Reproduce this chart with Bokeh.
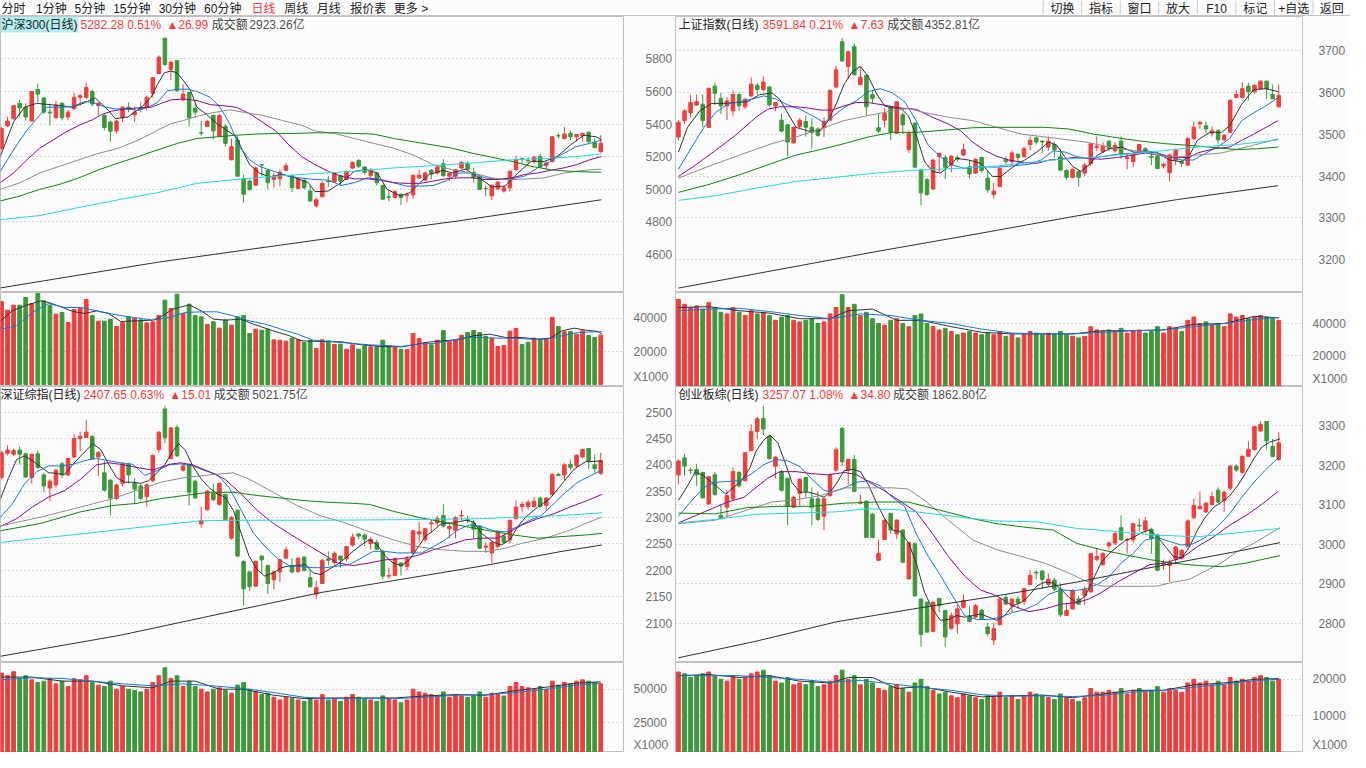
import numpy as np
from bokeh.plotting import figure
from bokeh.layouts import column, row
from bokeh.models import ColumnDataSource, Range1d, FixedTicker, Label, NumeralTickFormatter
from bokeh.core.properties import value
from bokeh.embed import file_html
from bokeh.resources import INLINE

# ---------------- toolbar ----------------
TB_LEFT = ["分时", "1分钟", "5分钟", "15分钟", "30分钟", "60分钟", "日线", "周线", "月线", "报价表", "更多 >"]
TB_RIGHT = ["切换", "指标", "窗口", "放大", "F10", "标记", "+自选", "返回"]
TB_ACTIVE = "日线"
UNIT_TEXT = "X1000"

# ---------------- 沪深300 ----------------
TL_TITLE = ["沪深300(日线)", "5282.28 0.51%", "▲26.99", "成交额", "2923.26亿"]
TL_OPEN = [5251,5388,5432,5527,5503,5418,5612,5560,5473,5439, 5527,5443,5495,5564,5564,5600,5513,5453,5412,5358,
           5439,5503,5457,5501,5503,5588,5711,5927,5736,5790, 5548,5594,5497,5346,5386,5453,5325,5386,5180,5301,
           5063,5049,5024,5150,5115,5059,5063,5115,5083,5004, 5055,4988,4897,4954,5049,5043,5083,5059,5129,5176,
           5136,5083,5099,5022,4952,4948,4968,4962,4964,5069, 5055,5115,5099,5156,5079,5079,5129,5160,5103,5075,
           5004,4958,5002,4988,5008,5119,5186,5176,5170,5200, 5144,5170,5328,5311,5342,5321,5327,5350,5285,5230]
TL_HIGH = [5382,5443,5517,5548,5527,5600,5649,5568,5527,5544, 5533,5487,5594,5584,5655,5612,5533,5459,5422,5426,
           5507,5533,5507,5533,5574,5689,5822,5933,5790,5790, 5645,5598,5527,5418,5426,5459,5459,5396,5311,5325,
           5089,5059,5140,5154,5123,5099,5119,5160,5089,5075, 5063,5022,4948,5049,5079,5103,5089,5113,5170,5184,
           5140,5130,5103,5028,4988,4994,4972,4978,5089,5119, 5109,5123,5150,5184,5099,5123,5170,5170,5130,5083,
           5022,5028,5049,5018,5115,5204,5196,5196,5204,5216, 5170,5325,5346,5382,5358,5338,5346,5352,5311,5331]
TL_LOW = [5241,5382,5428,5443,5422,5418,5533,5463,5390,5433, 5422,5422,5483,5513,5554,5509,5453,5362,5291,5342,
          5412,5473,5412,5473,5483,5564,5705,5756,5669,5600, 5544,5386,5437,5325,5382,5305,5321,5261,5176,5079,
          4917,4988,5022,5079,4998,5008,5018,5109,4982,4998, 4998,4921,4887,4948,5014,5039,5018,5055,5123,5129,
          5089,5059,5022,4934,4923,4942,4901,4921,4942,5063, 5049,5059,5089,5075,5049,5069,5123,5115,5039,4994,
          4954,4932,4994,4978,4984,5115,5156,5156,5156,5129, 5119,5164,5311,5305,5301,5291,5291,5285,5251,5224]
TL_CLOSE = [5372,5418,5513,5499,5443,5600,5584,5473,5467,5517, 5439,5473,5564,5574,5624,5523,5527,5378,5356,5418,
            5503,5491,5473,5493,5564,5685,5810,5766,5780,5604, 5584,5439,5473,5344,5416,5358,5453,5281,5261,5079,
            4968,4998,5130,5148,5039,5079,5103,5144,5008,5063, 5008,4927,4934,5035,5045,5099,5049,5109,5164,5140,
            5103,5113,5039,4938,4950,4984,4948,4964,5085,5085, 5099,5093,5136,5083,5095,5119,5164,5123,5069,4998,
            5002,5024,5043,5008,5109,5180,5184,5174,5196,5136, 5160,5321,5327,5338,5321,5335,5342,5291,5255,5282]
TL_VOL = [50302,45050,48080,48080,52726,49090,55150,50706,48080,42626, 43636,37576,45454,46060,51514,41818,38384,38384,39394,35152,
          37576,41010,40202,39192,37374,37980,41818,51110,46060,54746, 43030,48686,41818,41010,36364,37980,34142,39192,35960,41010,
          41818,30910,33536,32930,33536,27072,26870,26264,28082,27072, 25456,26668,21820,27072,26466,24244,24446,21416,24042,21416,
          23436,22830,22830,26870,23638,22426,21214,21214,30910,27880, 25254,24042,26870,32728,26062,26870,29900,31516,32728,31516,
          29092,27880,23032,23638,32324,33940,24244,25658,28082,27274, 27678,40606,35152,31920,32122,30506,32526,29698,28486,29900]
TL_MA5 = [[-0.2,5200],[2,5412],[3.8,5503],[5.8,5527],[8,5519],[9.8,5513],[11.7,5503],[13.9,5533],[15.5,5560],[17.7,5483],
          [18.8,5433],[20.9,5443],[23.1,5503],[24.7,5564],[25.8,5645],[26.9,5715],[28,5725],[29,5715],[30.1,5665],[31.2,5608],
          [32.3,5503],[33.9,5459],[35.6,5402],[37.2,5362],[38.8,5321],[39.9,5231],[41,5150],[42.6,5099],[44.2,5075],[46.4,5089],
          [48.5,5069],[50.7,5039],[51.8,4984],[54,4988],[56.1,5039],[58.3,5109],[60.4,5119],[62.1,5099],[63.7,4998],[65.9,4958],
          [67.5,4978],[69.1,5039],[70.7,5089],[72.9,5115],[74.5,5099],[76.7,5123],[78.9,5069],[81,5014],[83.2,5018],[85.3,5099],
          [87.5,5170],[89.7,5170],[91.8,5200],[94,5271],[96.2,5331],[98.3,5321],[99.1,5301]]
TL_MA10 = [[-0.2,5109],[2,5241],[4.2,5362],[5.8,5432],[7.4,5503],[9.6,5503],[11.7,5507],[13.9,5540],[15.5,5527],[17.2,5503],
           [18.8,5493],[20.9,5493],[22.6,5483],[24.2,5503],[25.8,5533],[27.4,5604],[29.1,5614],[30.7,5614],[32.3,5600],[34.5,5564],
           [36.1,5503],[37.7,5402],[39.3,5261],[41,5180],[42.6,5140],[44.2,5119],[45.8,5099],[47.5,5079],[49.1,5069],[50.7,5063],
           [51.8,5059],[54,5055],[56.1,5022],[58.3,5039],[60.4,5069],[62.6,5059],[64.8,5039],[66.9,5018],[69.1,5018],[71.3,5022],
           [73.4,5049],[75.6,5099],[77.8,5099],[79.9,5069],[82.1,5059],[84.3,5063],[86.4,5079],[88.6,5130],[90.7,5170],[92.9,5220],
           [95,5261],[97.2,5281],[99.1,5301]]
TL_MA20 = [[-0.2,5039],[2,5099],[4.2,5180],[6.3,5251],[8.5,5301],[10.7,5352],[12.8,5392],[15,5426],[16.6,5459],[18.2,5479],
           [20.4,5493],[22.6,5499],[24.7,5503],[26.4,5527],[28,5548],[30.1,5554],[32.3,5544],[34.5,5519],[36.6,5513],[38.8,5503],
           [41,5463],[43.1,5412],[45.3,5358],[47.5,5271],[49.6,5200],[51.8,5150],[54,5109],[56.1,5079],[58.3,5063],[60.4,5063],
           [62.6,5055],[64.8,5039],[66.9,5035],[69.1,5035],[71.3,5049],[73.4,5063],[75.6,5069],[77.8,5069],[79.9,5059],[82.1,5059],
           [84.3,5069],[86.4,5089],[88.6,5099],[90.7,5115],[92.9,5130],[95,5150],[97.2,5180],[99.1,5200]]
TL_MA30 = [[-0.2,4998],[3.1,5039],[6.3,5099],[9.6,5140],[12.8,5180],[16.1,5220],[19.3,5251],[22.6,5301],[25.8,5362],[28,5402],
           [30.1,5422],[32.3,5447],[34.5,5467],[37.7,5487],[39.9,5473],[43.1,5453],[46.4,5422],[49.6,5392],[51.8,5357],[55,5342],
           [58.3,5311],[61.5,5281],[64.8,5251],[68,5210],[71.3,5150],[74.5,5119],[77.8,5099],[81,5069],[83.2,5059],[85.3,5059],
           [89.7,5069],[93,5099],[96.2,5115],[99.1,5123]]
TL_MA60 = [[-0.2,4927],[3.1,4958],[6.3,4998],[9.6,5029],[12.8,5069],[16.1,5119],[19.3,5160],[22.6,5200],[25.8,5241],[29.1,5281],
           [32.3,5311],[35.6,5321],[38.8,5331],[42,5338],[45.3,5342],[48.5,5342],[51.8,5346],[55,5346],[58.3,5342],[61.5,5338],
           [64.8,5311],[68,5291],[71.3,5271],[74.5,5251],[77.8,5220],[81,5196],[84.3,5170],[87.5,5140],[90.7,5119],[94,5109],
           [97.2,5105],[99.1,5103]]
TL_MA120 = [[-0.2,4812],[6.3,4837],[12.8,4887],[19.3,4934],[25.8,4978],[32.3,5035],[38.8,5059],[45.3,5079],[51.8,5095],[58.3,5109],
            [64.8,5130],[71.3,5144],[77.8,5160],[84.3,5180],[90.7,5190],[95,5200],[99.1,5216]]
TL_MA250 = [[-0.2,4392],[25.8,4550],[51.8,4685],[75.6,4805],[99.1,4934]]
TL_VMA5 = [[-0.16,38586],[1.8,44646],[3.8,47676],[6.5,50706],[7.8,49696],[9.8,47070],[11.8,44242],[13.8,43030],[15.7,44646],[17.7,43030],
           [19.7,38182],[22.4,38586],[25,38990],[26.3,41010],[28.3,45656],[31,48282],[33,44646],[35,39596],[37,38990],[39.6,39596],
           [41.6,36566],[44.9,32526],[47.6,29496],[49.5,26466],[52.8,26062],[56.2,25860],[59.5,24042],[62.8,23032],[66.1,22830],[68.1,24042],
           [70.1,25456],[72.7,26466],[75.4,27072],[78,29496],[80.7,30506],[83.3,28486],[86,28486],[88.6,27476],[90.6,28082],[92.6,32526],
           [94.6,34142],[96.6,32930],[98.6,32122],[99.2,30506]]
TL_VMA10 = [[-0.16,33536],[2.5,35556],[5.1,43636],[7.8,49090],[10.4,46666],[13.1,46666],[15.7,44646],[18.4,42626],[21,41010],[25,38990],
            [27.7,40606],[30.3,43636],[33,44040],[35.6,44040],[38.3,41616],[40.9,38586],[43.6,36566],[46.2,33536],[48.9,30506],[51.5,26870],
            [54.2,26062],[58.1,24850],[60.8,24042],[63.4,23638],[66.1,23032],[68.7,24446],[71.4,24850],[74,26466],[76.7,28486],[79.3,28486],
            [82,28082],[84.6,28082],[87.3,27476],[89.9,27476],[92.6,29496],[95.2,31516],[97.9,31920],[99.2,31920]]

# ---------------- 上证指数 ----------------
TR_TITLE = ["上证指数(日线)", "3591.84 0.21%", "▲7.63", "成交额", "4352.81亿"]
TR_OPEN = [3493,3532,3551,3569,3571,3516,3614,3585,3567,3555, 3594,3565,3591,3616,3606,3612,3567,3533,3522,3479,
           3518,3530,3516,3512,3515,3533,3612,3720,3661,3708, 3618,3640,3594,3515,3533,3565,3502,3546,3463,3526,
           3414,3391,3369,3447,3444,3426,3444,3450,3422,3407, 3444,3395,3356,3375,3440,3434,3452,3446,3475,3491,
           3483,3469,3475,3446,3413,3397,3411,3407,3430,3468, 3458,3483,3460,3483,3442,3434,3458,3465,3447,3447,
           3424,3408,3438,3434,3426,3489,3524,3520,3502,3508, 3486,3504,3587,3587,3614,3601,3608,3626,3594,3565]
TR_HIGH = [3533,3559,3594,3594,3594,3610,3622,3598,3588,3604, 3598,3585,3635,3622,3637,3614,3577,3549,3524,3518,
           3538,3544,3538,3516,3540,3606,3663,3729,3698,3716, 3661,3641,3604,3548,3562,3565,3577,3551,3508,3528,
           3418,3395,3440,3455,3450,3450,3450,3477,3438,3442, 3446,3414,3383,3421,3447,3461,3454,3471,3494,3494,
           3486,3494,3481,3465,3416,3418,3413,3432,3479,3494, 3481,3486,3481,3494,3455,3455,3477,3469,3454,3450,
           3432,3454,3465,3438,3493,3530,3530,3530,3518,3512, 3500,3583,3604,3624,3622,3618,3627,3627,3618,3618]
TR_LOW = [3485,3524,3540,3567,3516,3515,3569,3548,3533,3544, 3555,3559,3588,3594,3602,3565,3555,3504,3447,3477,
          3512,3494,3465,3493,3493,3532,3610,3673,3632,3640, 3616,3544,3573,3502,3516,3485,3500,3500,3455,3421,
          3330,3353,3367,3408,3393,3408,3434,3447,3393,3405, 3408,3360,3346,3374,3428,3424,3426,3444,3461,3475,
          3455,3460,3444,3413,3391,3395,3375,3400,3424,3460, 3454,3460,3455,3440,3416,3422,3454,3455,3426,3416,
          3418,3387,3426,3421,3424,3486,3512,3502,3494,3477, 3483,3502,3585,3585,3580,3596,3606,3583,3583,3563]
TR_CLOSE = [3528,3555,3575,3577,3532,3609,3597,3567,3579,3594, 3567,3583,3619,3606,3624,3569,3575,3507,3481,3516,
            3533,3516,3504,3497,3530,3604,3653,3674,3696,3641, 3635,3565,3585,3507,3549,3504,3577,3522,3502,3421,
            3360,3356,3438,3454,3421,3447,3440,3463,3405,3440, 3413,3367,3364,3418,3434,3455,3444,3465,3485,3481,
            3481,3483,3463,3414,3397,3416,3397,3426,3477,3471, 3471,3465,3473,3454,3444,3450,3475,3460,3444,3418,
            3428,3450,3461,3430,3489,3516,3528,3512,3508,3486, 3497,3580,3594,3608,3601,3616,3626,3608,3584,3592]
TR_VOL = [55000,52000,50000,51000,49000,53000,50000,47000,46000,50000, 47000,45000,48000,46000,47000,45000,42000,44000,45000,42000,
          41000,42000,43000,40000,41000,46000,50000,58000,50000,52000, 45000,47000,43000,40000,39000,42000,43000,40000,38000,45000,
          46000,40000,38000,36000,37000,35000,33000,34000,35000,34000, 33000,34000,33000,35000,32000,33000,31000,33000,35000,34000,
          33000,34000,33000,35000,33000,32000,31000,32000,38000,36000, 35000,36000,35000,37000,34000,35000,36000,34000,35000,38000,
          34000,38000,37000,35000,42000,44000,40000,41000,39000,40000, 38000,46000,44000,45000,43000,44000,45000,44000,43000,42000]
TR_MA5 = [[0,3457],[1.5,3516],[3.5,3555],[5.5,3573],[7.5,3573],[9.4,3575],[11.4,3577],[13.4,3594],[15.4,3598],[16.7,3583],
          [18.1,3548],[19.4,3516],[21.4,3507],[23.4,3508],[24.7,3532],[26,3571],[27.3,3618],[28.7,3649],[30,3661],[31.3,3637],
          [32.6,3598],[34,3567],[35.3,3562],[36.6,3562],[37.9,3544],[39.3,3493],[40.6,3434],[41.9,3411],[43.2,3407],[44.5,3422],
          [45.9,3442],[47.9,3438],[49.9,3430],[51.8,3399],[53.2,3399],[54.5,3414],[55.8,3428],[57.1,3438],[59.1,3457],[61.1,3481],
          [62.4,3473],[63.7,3446],[65.1,3422],[66.4,3411],[67.7,3426],[69.1,3450],[71.1,3465],[73.1,3469],[75,3457],[77,3457],
          [79,3455],[81,3438],[83,3434],[84.3,3450],[85.6,3485],[87.6,3504],[89.6,3504],[90.9,3520],[92.9,3571],[94.9,3606],
          [96.9,3608],[98.9,3601]]
TR_MA10 = [[0,3416],[2.2,3469],[4.2,3516],[6.1,3551],[8.1,3571],[10.1,3577],[12.1,3583],[14.1,3591],[16.1,3583],[18.1,3569],
           [20.1,3559],[22,3544],[24,3528],[25.3,3540],[27.3,3563],[29.3,3579],[31.3,3601],[33.3,3608],[35.3,3598],[37.3,3577],
           [39.2,3532],[41.2,3473],[43.2,3446],[45.2,3426],[47.2,3418],[49.8,3422],[52.5,3421],[55.1,3424],[57.8,3428],[59.8,3438],
           [61.8,3460],[63.8,3457],[65.7,3446],[67.7,3442],[69.7,3446],[72.4,3452],[75,3454],[77,3461],[79,3455],[81,3446],
           [83,3438],[84.9,3438],[86.9,3454],[88.9,3469],[90.9,3489],[92.9,3532],[94.9,3551],[96.9,3567],[98.9,3587]]
TR_MA20 = [[0,3399],[2.8,3426],[6.1,3461],[9.4,3497],[12.8,3540],[14.7,3559],[16.7,3565],[19.4,3565],[21.4,3562],[23.4,3557],
           [25.3,3557],[27.3,3567],[29.3,3575],[31.3,3575],[33.9,3569],[36.6,3562],[39.2,3559],[41.9,3540],[44.5,3524],[46.5,3508],
           [48.5,3481],[50.5,3461],[52.5,3447],[54.5,3438],[57.1,3432],[59.1,3430],[61.1,3438],[63.1,3440],[65.1,3444],[67.1,3442],
           [69.7,3440],[72.4,3444],[75,3450],[77,3455],[79,3450],[81.6,3444],[84.3,3444],[85.6,3455],[88.3,3465],[90.9,3469],
           [92.9,3485],[94.9,3500],[96.9,3516],[98.9,3532]]
TR_MA30 = [[0,3395],[4.8,3422],[10.1,3450],[15.4,3477],[19.4,3493],[23.4,3512],[27.3,3532],[31.3,3544],[35.3,3555],[37.9,3561],
           [40.6,3551],[44.5,3540],[48.5,3532],[52.5,3516],[56.5,3500],[60.4,3493],[64.4,3486],[67.1,3481],[69.7,3473],[72.4,3465],
           [75,3461],[77.7,3454],[80.3,3446],[83,3446],[85.6,3450],[89.6,3455],[93.6,3469],[96.9,3481],[98.9,3489]]
TR_MA60 = [[0,3361],[4.8,3379],[10.1,3403],[15.4,3430],[19.4,3450],[23.4,3463],[27.3,3477],[31.3,3493],[35.3,3504],[39.2,3504],
           [44.5,3510],[48.5,3515],[52.5,3516],[56.5,3516],[60.4,3516],[64.4,3512],[68.4,3500],[72.4,3491],[76.3,3483],[80.3,3477],
           [84.3,3473],[88.3,3468],[92.2,3463],[95.5,3465],[98.9,3469]]
TR_MA120 = [[0,3342],[6.1,3353],[12.8,3371],[19.4,3387],[26,3397],[32.6,3407],[39.2,3414],[45.9,3418],[52.5,3424],[59.1,3434],
            [63.1,3440],[68.4,3444],[72.4,3450],[76.3,3455],[80.3,3461],[85.6,3469],[92.2,3475],[98.9,3486]]
TR_MA250 = [[0,3133],[16.1,3176],[32.6,3220],[49.2,3262],[65.7,3305],[82.3,3344],[98.9,3377]]
TR_VMA5 = [[0,50000],[5,50500],[10,48000],[15,46500],[20,43000],[25,43000],[28,48000],[32,49000],[36,42000],[40,42000],
           [45,38000],[50,34500],[55,33500],[60,33500],[65,33500],[70,35500],[75,35500],[80,36000],[85,39500],[90,40000],
           [95,44500],[99,43500]]
TR_VMA10 = [[0,48000],[5,49000],[10,49500],[15,47500],[20,45000],[25,43000],[30,46000],[35,45000],[40,42000],[45,40000],
            [50,36500],[55,34000],[60,33500],[65,33500],[70,34500],[75,35500],[80,36000],[85,38000],[90,40000],[95,42500],[99,43800]]

# ---------------- 深证综指 ----------------
BL_TITLE = ["深证综指(日线)", "2407.65 0.63%", "▲15.01", "成交额", "5021.75亿"]
BL_OPEN = [2376,2422,2420,2428,2421,2376,2421,2381,2356,2362, 2402,2381,2415,2450,2452,2454,2415,2385,2371,2336,
           2365,2401,2365,2360,2340,2370,2429,2506,2412,2471, 2390,2401,2369,2288,2315,2346,2325,2344,2261,2314,
           2217,2197,2170,2227,2209,2182,2197,2223,2209,2198, 2225,2186,2155,2175,2222,2215,2227,2222,2248,2269,
           2267,2251,2253,2236,2189,2190,2214,2207,2233,2269, 2258,2288,2290,2304,2279,2276,2303,2296,2290,2284,
           2244,2233,2245,2265,2258,2298,2321,2321,2321,2337, 2323,2344,2382,2381,2401,2398,2415,2431,2400,2384]
BL_HIGH = [2426,2437,2431,2435,2423,2421,2427,2385,2373,2392, 2406,2413,2458,2463,2485,2456,2426,2407,2373,2364,
           2404,2404,2375,2364,2365,2420,2464,2512,2471,2476, 2401,2402,2371,2321,2352,2364,2366,2345,2303,2315,
           2219,2198,2219,2228,2211,2198,2222,2245,2223,2225, 2227,2202,2180,2222,2236,2236,2228,2246,2270,2271,
           2270,2263,2258,2239,2205,2225,2215,2227,2276,2292, 2281,2296,2303,2325,2290,2303,2314,2303,2295,2286,
           2253,2255,2276,2267,2296,2332,2331,2334,2339,2340, 2339,2384,2385,2404,2410,2420,2431,2432,2420,2423]
BL_LOW = [2373,2418,2417,2401,2376,2365,2392,2348,2331,2357, 2375,2379,2413,2426,2451,2410,2379,2350,2304,2334,
          2359,2365,2325,2332,2321,2367,2423,2441,2410,2415, 2387,2323,2336,2281,2313,2331,2323,2295,2258,2225,
          2133,2161,2169,2194,2155,2164,2178,2222,2194,2195, 2198,2167,2146,2174,2209,2209,2205,2217,2245,2259,
          2246,2239,2238,2183,2184,2189,2190,2200,2231,2253, 2253,2271,2284,2281,2261,2261,2295,2290,2261,2240,
          2233,2214,2242,2250,2251,2296,2311,2315,2319,2319, 2313,2342,2379,2371,2390,2396,2412,2392,2385,2381]
BL_CLOSE = [2423,2428,2427,2420,2377,2420,2395,2360,2369,2390, 2381,2412,2450,2454,2462,2412,2423,2352,2337,2362,
            2402,2381,2354,2336,2362,2418,2462,2451,2470,2417, 2398,2348,2337,2294,2350,2334,2365,2296,2300,2227,
            2165,2169,2217,2220,2175,2197,2220,2239,2197,2223, 2200,2169,2167,2219,2219,2232,2220,2245,2263,2265,
            2259,2259,2240,2189,2190,2222,2208,2222,2275,2273, 2279,2290,2298,2284,2283,2300,2304,2294,2278,2242,
            2246,2253,2273,2253,2295,2320,2325,2329,2331,2321, 2337,2382,2380,2400,2395,2418,2429,2408,2393,2408]
BL_VOL = [62000,60000,63000,58000,60000,57000,55000,56000,58000,54000, 56000,52000,58000,57000,60000,55000,53000,52000,56000,50000,
          52000,50000,49000,48000,50000,55000,60000,66000,58000,60000, 52000,56000,52000,50000,48000,50000,51000,49000,47000,53000,
          55000,50000,48000,46000,47000,44000,42000,44000,43000,42000, 41000,43000,42000,46000,42000,43000,41000,44000,46000,44000,
          43000,42000,41000,45000,43000,42000,40000,42000,50000,48000, 47000,46000,45000,48000,44000,46000,45000,44000,45000,48000,
          44000,47000,46000,45000,52000,55000,52000,51000,50000,52000, 50000,56000,53000,55000,54000,56000,57000,56000,55000,54000]
BL_MA5 = [[-0.16,2336],[1.2,2376],[2.5,2410],[3.8,2417],[5.1,2408],[6.5,2396],[7.8,2385],[9.1,2384],[10.4,2381],[11.8,2401],
          [13.1,2417],[15.1,2440],[16.4,2429],[17.7,2401],[19,2376],[20.4,2367],[21.7,2367],[23,2365],[24.3,2370],[25.7,2385],
          [27,2401],[28.3,2426],[29.3,2440],[30.3,2429],[31.6,2398],[33,2373],[34.3,2357],[35.6,2345],[36.9,2339],[38.3,2314],
          [39.6,2270],[40.9,2227],[42.2,2202],[43.5,2189],[44.9,2195],[46.2,2205],[47.5,2208],[48.8,2209],[50.2,2211],[51.5,2195],
          [52.8,2192],[54.1,2202],[55.5,2211],[56.8,2223],[58.1,2236],[59.4,2248],[60.8,2258],[62.1,2248],[63.4,2227],[64.7,2214],
          [66.1,2209],[67.4,2220],[68.7,2242],[70,2264],[71.4,2276],[72.7,2289],[74.7,2290],[76.7,2295],[78,2292],[79.3,2270],
          [81.3,2253],[82.6,2248],[84,2258],[85.3,2283],[86.6,2301],[88.6,2320],[90.6,2336],[92.6,2364],[94.6,2392],[96.5,2406],
          [98.5,2407],[99.2,2406]]
BL_MA10 = [[-0.16,2301],[1.8,2326],[3.8,2364],[5.8,2387],[7.8,2398],[9.8,2398],[11.8,2401],[13.7,2408],[15.7,2412],[17.7,2408],
           [19.7,2404],[21.7,2401],[23.7,2380],[25.7,2389],[27.7,2400],[29.6,2402],[31.6,2398],[33.6,2389],[35.6,2382],[37.6,2357],
           [39.6,2314],[41.6,2271],[43.5,2246],[45.5,2223],[47.5,2209],[49.5,2207],[51.5,2205],[53.5,2205],[55.5,2208],[57.5,2211],
           [59.4,2223],[61.4,2236],[63.4,2236],[65.4,2233],[67.4,2233],[69.4,2233],[71.4,2245],[73.3,2258],[75.3,2276],[77.3,2286],
           [79.3,2283],[81.3,2275],[83.3,2273],[85.3,2283],[87.3,2295],[89.2,2304],[91.2,2326],[93.2,2348],[95.2,2367],[97.2,2379],
           [99.2,2390]]
BL_MA20 = [[-0.16,2283],[2.5,2298],[5.1,2320],[7.8,2339],[10.4,2351],[13.1,2373],[15.7,2400],[17.7,2404],[19.7,2401],[22.4,2395],
           [25,2390],[27.7,2401],[29.6,2404],[31.6,2400],[34.3,2387],[36.9,2373],[39.6,2345],[42.2,2314],[44.9,2289],[47.5,2270],
           [50.2,2251],[52.8,2233],[55.5,2214],[58.1,2209],[60.8,2214],[63.4,2220],[66.1,2222],[68.7,2228],[71.4,2239],[74,2248],
           [76.7,2258],[79.3,2261],[82,2261],[84,2273],[86,2286],[88.6,2298],[91.2,2307],[93.9,2320],[96.5,2331],[99.2,2344]]
BL_MA30 = [[-0.16,2284],[6.5,2301],[13.1,2320],[18.4,2336],[22.4,2352],[26.3,2367],[30.3,2376],[34.3,2381],[38.3,2385],[40.9,2373],
           [44.9,2348],[48.8,2323],[52.8,2303],[56.8,2290],[60.8,2273],[64.7,2258],[68.7,2245],[72.7,2239],[76.7,2236],[80.6,2236],
           [83.3,2242],[85.9,2251],[89.9,2261],[93.9,2276],[96.5,2289],[99.2,2301]]
BL_MA60 = [[-0.16,2275],[6.5,2289],[13.1,2311],[18.4,2323],[22.4,2327],[26.3,2336],[30.3,2342],[34.3,2348],[38.3,2348],[42.2,2342],
           [46.2,2337],[50.2,2332],[54.1,2329],[58.1,2327],[60.8,2325],[64.7,2312],[68.7,2301],[72.7,2292],[76.7,2283],[80.6,2275],
           [84.6,2267],[88.6,2261],[92.6,2264],[96.5,2267],[99.2,2270]]
BL_MA120 = [[-0.16,2253],[13.1,2269],[26.3,2286],[33,2294],[39.6,2295],[52.8,2295],[66.1,2296],[79.3,2298],[85.9,2301],[92.6,2304],[99.2,2309]]
BL_MA250 = [[-0.16,2037],[19.7,2077],[39.6,2126],[52.8,2158],[66.1,2183],[79.3,2208],[92.6,2236],[99.2,2248]]
BL_VMA5 = [[0,59000],[5,59000],[10,56000],[15,56000],[20,52500],[25,51000],[28,56000],[32,56000],[36,50000],[40,50000],
           [45,45500],[50,43000],[55,43500],[60,43500],[65,43500],[70,45000],[75,46000],[80,45500],[85,49000],[90,51500],
           [95,54500],[99,55500]]
BL_VMA10 = [[0,57000],[5,58500],[10,58000],[15,56000],[20,54000],[25,52500],[30,54000],[35,52500],[40,50500],[45,47500],
            [50,44000],[55,43000],[60,43000],[65,43000],[70,44000],[75,45500],[80,46000],[85,47500],[90,50000],[95,53000],[99,54500]]

# ---------------- 创业板综 ----------------
BR_TITLE = ["创业板综(日线)", "3257.07 1.08%", "▲34.80", "成交额", "1862.80亿"]
BR_OPEN = [3176,3219,3188,3190,3182,3102,3176,3073,3094,3115, 3182,3161,3237,3286,3319,3273,3198,3184,3167,3094,
           3129,3169,3115,3115,3071,3123,3188,3294,3188,3215, 3104,3109,3076,2959,3012,3078,3026,3036,2912,3001,
           2861,2853,2779,2862,2832,2786,2798,2840,2819,2815, 2832,2790,2757,2796,2865,2844,2861,2854,2898,2929,
           2932,2898,2909,2886,2819,2836,2861,2869,2879,2962, 2948,2996,3003,3042,3011,3011,3048,3036,3038,3023,
           2948,2946,2961,2965,2994,3067,3090,3082,3101,3137, 3111,3142,3198,3182,3223,3240,3287,3311,3248,3215]
BR_HIGH = [3215,3229,3194,3204,3184,3173,3184,3101,3137,3194, 3186,3233,3304,3323,3351,3277,3223,3188,3169,3123,
           3167,3171,3144,3134,3118,3179,3246,3298,3217,3226, 3126,3112,3079,3011,3063,3079,3063,3037,3006,3004,
           2862,2854,2854,2865,2834,2827,2846,2873,2842,2848, 2836,2801,2801,2862,2873,2862,2869,2890,2934,2934,
           2934,2926,2915,2901,2851,2886,2869,2893,2978,2990, 2979,3007,3032,3073,3017,3054,3065,3069,3042,3027,
           2961,2961,2996,2988,3063,3115,3134,3107,3134,3144, 3136,3201,3202,3226,3261,3301,3312,3312,3267,3284]
BR_LOW = [3152,3173,3178,3148,3115,3101,3123,3063,3069,3111, 3144,3159,3236,3267,3277,3215,3167,3134,3048,3093,
          3098,3119,3048,3059,3036,3121,3184,3198,3151,3132, 3102,3017,3015,2957,3011,3026,3013,2952,2911,2867,
          2740,2776,2777,2827,2740,2784,2773,2837,2802,2812, 2809,2767,2744,2794,2846,2827,2836,2846,2896,2911,
          2886,2892,2882,2815,2818,2834,2846,2846,2878,2957, 2946,2986,2998,3009,2977,3004,3032,3029,2976,2932,
          2936,2904,2948,2961,2993,3065,3088,3079,3098,3104, 3082,3137,3184,3179,3221,3237,3286,3240,3223,3212]
BR_CLOSE = [3211,3198,3187,3176,3118,3171,3126,3065,3123,3184, 3148,3232,3286,3318,3292,3217,3221,3137,3096,3119,
            3165,3134,3094,3063,3115,3176,3240,3209,3215,3134, 3107,3017,3017,2977,3061,3036,3061,2954,3004,2869,
            2771,2777,2853,2844,2765,2819,2836,2857,2804,2844, 2811,2773,2786,2861,2848,2861,2851,2887,2921,2927,
            2911,2911,2886,2821,2832,2882,2848,2886,2976,2969, 2977,3003,3027,3011,3012,3052,3046,3059,3015,2934,
            2952,2952,2993,2984,3059,3098,3096,3104,3121,3107, 3132,3198,3188,3223,3240,3298,3304,3262,3222,3257]
BR_VOL = [22000,21500,20500,21000,21500,22000,21000,20000,19500,21000, 20000,20500,21500,22000,22500,21000,19500,19000,20500,18500,
          19000,18500,19500,18000,18500,19500,21000,22500,20000,21000, 18500,20000,19000,17500,17000,18000,18500,17500,16500,19000,
          20000,18000,17000,16000,16500,15500,15000,16000,15500,15000, 14500,15500,15000,16500,15000,15500,14500,15500,16500,16000,
          15500,15000,14500,16000,15000,14500,14000,15000,17500,16500, 16500,17000,16500,17500,16000,17000,17500,16500,17000,18000,
          16500,17500,17000,16500,19000,20000,19000,19500,18500,19500, 18500,20500,19500,20000,19500,20500,21000,20500,19500,20000]
BR_MA5 = [[0,3111],[1.5,3148],[2.8,3184],[4.2,3173],[5.5,3157],[6.8,3140],[7.8,3127],[9.1,3144],[10.4,3161],[11.8,3194],
          [12.8,3236],[14.1,3265],[15.1,3277],[16.4,3257],[17.4,3215],[18.7,3157],[20,3132],[21.4,3132],[22.7,3127],[24,3119],
          [25,3132],[26,3152],[27.3,3186],[28.7,3190],[30,3184],[31.3,3152],[32.6,3107],[34,3065],[35.3,3036],[36.6,3032],
          [38,3002],[39.3,2948],[40.6,2877],[41.9,2836],[43.2,2807],[44.5,2809],[45.9,2819],[47.2,2815],[48.5,2819],[49.8,2823],
          [51.2,2815],[52.5,2807],[53.8,2819],[55.1,2844],[56.5,2852],[57.8,2869],[59.1,2894],[60.4,2904],[61.8,2902],[63.1,2886],
          [64.4,2865],[65.7,2852],[67.1,2869],[68.4,2911],[69.7,2953],[71,2976],[72.4,2994],[73.7,3009],[75,3017],[76.3,3029],
          [77.7,3036],[79,3019],[80.3,2994],[81.6,2969],[83,2965],[84.3,2994],[85.6,3036],[86.9,3069],[88.3,3094],[89.6,3107],
          [90.9,3123],[92.2,3148],[93.6,3182],[94.9,3217],[96.2,3246],[97.5,3259],[99.2,3267]]
BR_MA10 = [[0,3071],[2.2,3111],[4.2,3144],[6.1,3157],[8.1,3159],[10.1,3161],[12.1,3179],[14.1,3202],[16.1,3215],[18.1,3211],
           [20.1,3196],[22,3165],[24,3137],[25.3,3132],[27.3,3142],[29.3,3157],[31.3,3161],[33.3,3148],[35.3,3119],[37.3,3096],
           [39.2,3027],[41.2,2969],[43.2,2921],[45.2,2869],[47.2,2819],[49.2,2809],[51.2,2809],[53.2,2815],[55.1,2827],[57.1,2834],
           [59.1,2848],[61.1,2873],[63.1,2884],[65.1,2882],[67.1,2886],[69.1,2898],[71,2917],[73,2952],[75,2977],[77,3011],
           [79,3017],[81,3007],[82.9,2998],[84.9,3001],[86.9,3017],[88.9,3044],[90.9,3077],[92.9,3119],[94.9,3157],[96.9,3190],
           [99.2,3223]]
BR_MA20 = [[0,3054],[3.5,3077],[6.1,3094],[8.1,3107],[10.8,3119],[12.8,3144],[14.7,3167],[16.7,3184],[19.4,3184],[22,3179],
           [24.7,3176],[27.3,3182],[29.3,3177],[31.3,3159],[33.9,3136],[36.6,3109],[39.2,3082],[41.9,3027],[44.5,2969],[47.2,2919],
           [49.8,2884],[52.5,2869],[55.1,2844],[57.8,2829],[60.4,2836],[63.1,2848],[65.7,2852],[67.7,2861],[69.7,2877],[72.4,2904],
           [75,2926],[77.7,2948],[80.3,2953],[83,2965],[85.6,2994],[88.3,3019],[90.9,3048],[93.6,3073],[96.2,3101],[98.9,3134]]
BR_MA30 = [[0,3052],[6.1,3061],[11.4,3087],[15.4,3107],[19.4,3113],[23.4,3123],[27.3,3143],[31.3,3143],[35.3,3143],[37.9,3140],
           [40.6,3111],[44.5,3061],[48.5,3011],[52.5,2986],[56.5,2969],[60.4,2952],[64.4,2927],[67.1,2907],[69.7,2894],[72.4,2893],
           [76.3,2893],[79,2894],[81.6,2904],[84.3,2911],[86.9,2932],[89.6,2953],[92.2,2982],[94.9,3002],[96.9,3021],[99.2,3042]]
BR_MA60 = [[0,3079],[6.1,3077],[11.4,3093],[16.7,3096],[22,3096],[27.3,3104],[32.6,3107],[37.9,3107],[43.2,3086],[48.5,3065],
           [52.5,3052],[57.8,3042],[61.8,3036],[65.7,3002],[69.7,2986],[73.7,2973],[77.7,2961],[81.6,2952],[85.6,2946],[89.6,2943],
           [93.6,2952],[96.2,2961],[99.2,2971]]
BR_MA120 = [[0,3054],[6.1,3063],[12.8,3076],[19.4,3079],[26,3082],[31.3,3090],[36.6,3087],[41.9,3077],[47.2,3067],[52.5,3059],
            [59.1,3057],[65.7,3040],[72.4,3032],[79,3023],[85.6,3019],[92.2,3029],[99.2,3040]]
BR_MA250 = [[0,2712],[12.8,2754],[26,2803],[39.2,2837],[52.5,2869],[65.7,2904],[79,2944],[92.2,2982],[99.2,3004]]
BR_VMA5 = [[0,21000],[5,21300],[10,20500],[15,21000],[20,19500],[25,19000],[28,20500],[32,20500],[36,17500],[40,18000],
           [45,16500],[50,15200],[55,15500],[60,15700],[65,15000],[70,16000],[75,17000],[80,17000],[85,18500],[90,19000],
           [95,20000],[99,20200]]
BR_VMA10 = [[0,21000],[5,21000],[10,21000],[15,20500],[20,20000],[25,19200],[30,19700],[35,18800],[40,17800],[45,17000],
            [50,15800],[55,15400],[60,15500],[65,15300],[70,15600],[75,16500],[80,17000],[85,17800],[90,18700],[95,19600],[99,20000]]

# ---------------- style ----------------
FONT = "Liberation Sans, Noto Sans CJK SC, DejaVu Sans"
BG = "#fcfcfc"
FRAME = "#c0c0c0"
RED = "#f23d3d"
GREEN = "#3a9a3a"
MA_COLORS = ["#333333", "#1478d8", "#8b0a8b", "#8c8c8c", "#0a870a", "#25d5e5", "#303030"]
VMA_COLORS = ["#333333", "#1478d8"]
TITLE_COLORS = ["#202020", "#f23d3d", "#f23d3d", "#404040", "#505050"]


def base_fig(w, h, xr, yr, ax_w, ticks, grid_ticks, standoff, overrides=None):
    p = figure(width=w, height=h, x_range=Range1d(*xr), y_range=Range1d(*yr),
               output_backend="svg", toolbar_location=None, tools="",
               y_axis_location="right", x_axis_location=None,
               min_border_left=0, min_border_right=ax_w, min_border_top=0, min_border_bottom=0,
               background_fill_color=BG, border_fill_color=BG, outline_line_color=FRAME)
    ax = p.yaxis[0]
    ax.ticker = FixedTicker(ticks=ticks)
    ax.formatter = NumeralTickFormatter(format="0")
    if overrides:
        ax.major_label_overrides = overrides
    ax.axis_line_color = None
    ax.major_tick_line_color = None
    ax.minor_tick_line_color = None
    ax.major_tick_out = 0
    ax.major_tick_in = 0
    ax.major_label_standoff = standoff
    ax.major_label_text_font = FONT
    ax.major_label_text_font_size = "12px"
    ax.major_label_text_color = "#707070"
    p.xgrid.visible = False
    p.ygrid.ticker = FixedTicker(ticks=grid_ticks)
    p.ygrid.grid_line_color = "#b0b0b0"
    p.ygrid.grid_line_dash = "1 3"
    return p


def quadrant(cfg):
    w, ax_w, ph, vh = cfg["w"], cfg["ax_w"], cfg["ph"], cfg["vh"]
    fw = w - ax_w
    o, h, l, c = (np.array(cfg[k], dtype=float) for k in ("open", "high", "low", "close"))
    x = np.arange(len(o))
    colors = [RED if cc >= oo else GREEN for oo, cc in zip(o, c)]

    p = base_fig(w, ph, cfg["xr"], cfg["pyr"], ax_w, cfg["pticks"], cfg["pticks"], cfg["pstand"])
    src = ColumnDataSource(dict(x=x, o=o, h=h, l=l, c=c, top=np.maximum(o, c), bot=np.minimum(o, c), col=colors))
    p.segment(x0="x", y0="h", x1="x", y1="l", line_color="col", line_width=1, source=src)
    p.vbar(x="x", width=0.58, top="top", bottom="bot", fill_color="col", line_color="col", line_width=1, source=src)
    for data, col in zip(cfg["mas"], MA_COLORS):
        p.line([d[0] for d in data], [d[1] for d in data], line_color=col, line_width=1)

    # title
    scale = fw / cfg["ref_fw"]
    for i, (txt, px, tc) in enumerate(zip(cfg["title"], cfg["title_x"], TITLE_COLORS)):
        kw = {}
        if i == 0 and cfg.get("hl"):
            kw = dict(background_fill_color="#b4eef0", padding=1)
        p.add_layout(Label(x=px * scale, y=ph - 8, x_units="screen", y_units="screen", text=txt,
                           text_font=FONT, text_font_size="12px", text_color=tc,
                           text_baseline="middle", text_align="left", **kw))

    unit_pos = cfg["unit_pos"]
    v = base_fig(w, vh, cfg["xr"], cfg["vyr"], ax_w, [unit_pos] + cfg["vticks"], cfg["vticks"], cfg["vstand"],
                 overrides={unit_pos: UNIT_TEXT})
    vsrc = ColumnDataSource(dict(x=x, v=np.array(cfg["vol"], dtype=float), col=colors))
    v.vbar(x="x", width=0.62, top="v", bottom=0, fill_color="col", line_color="col", line_width=1, source=vsrc)
    for data, col in zip(cfg["vmas"], VMA_COLORS):
        v.line([d[0] for d in data], [d[1] for d in data], line_color=col, line_width=1)
    return column(p, v, spacing=0)


LW, RW = 675, 675
XR_L = (-0.162, 102.76)
XR_R = (-0.487, 102.92)

tl = quadrant(dict(w=LW, ax_w=49, ph=276, vh=94, xr=XR_L, ref_fw=634,
                   open=TL_OPEN, high=TL_HIGH, low=TL_LOW, close=TL_CLOSE, vol=TL_VOL,
                   mas=[TL_MA5, TL_MA10, TL_MA20, TL_MA30, TL_MA60, TL_MA120, TL_MA250], vmas=[TL_VMA5, TL_VMA10],
                   pyr=(4364, 6061), pticks=[4600, 4800, 5000, 5200, 5400, 5600, 5800], pstand=22,
                   vyr=(-1210, 55756), vticks=[20000, 40000], vstand=10, unit_pos=4500,
                   title=TL_TITLE, title_x=[0, 81, 168, 214, 252], hl=True))
tr = quadrant(dict(w=RW, ax_w=45, ph=276, vh=94, xr=XR_R, ref_fw=637,
                   open=TR_OPEN, high=TR_HIGH, low=TR_LOW, close=TR_CLOSE, vol=TR_VOL,
                   mas=[TR_MA5, TR_MA10, TR_MA20, TR_MA30, TR_MA60, TR_MA120, TR_MA250], vmas=[TR_VMA5, TR_VMA10],
                   pyr=(3122.5, 3780), pticks=[3200, 3300, 3400, 3500, 3600, 3700], pstand=16,
                   vyr=(625, 59375), vticks=[20000, 40000], vstand=10, unit_pos=5600,
                   title=TR_TITLE, title_x=[3, 88, 175, 214, 252]))
bl = quadrant(dict(w=LW, ax_w=49, ph=276, vh=90, xr=XR_L, ref_fw=634,
                   open=BL_OPEN, high=BL_HIGH, low=BL_LOW, close=BL_CLOSE, vol=BL_VOL,
                   mas=[BL_MA5, BL_MA10, BL_MA20, BL_MA30, BL_MA60, BL_MA120, BL_MA250], vmas=[BL_VMA5, BL_VMA10],
                   pyr=(2025.2, 2548.6), pticks=[2100, 2150, 2200, 2250, 2300, 2350, 2400, 2450, 2500], pstand=22,
                   vyr=(2960, 69845), vticks=[25000, 50000], vstand=10, unit_pos=8500,
                   title=BL_TITLE, title_x=[0, 84, 171, 216, 255]))
br = quadrant(dict(w=RW, ax_w=45, ph=276, vh=90, xr=XR_R, ref_fw=637,
                   open=BR_OPEN, high=BR_HIGH, low=BR_LOW, close=BR_CLOSE, vol=BR_VOL,
                   mas=[BR_MA5, BR_MA10, BR_MA20, BR_MA30, BR_MA60, BR_MA120, BR_MA250], vmas=[BR_VMA5, BR_VMA10],
                   pyr=(2700, 3400), pticks=[2800, 2900, 3000, 3100, 3200, 3300], pstand=16,
                   vyr=(20, 24590), vticks=[10000, 20000], vstand=10, unit_pos=2100,
                   title=BR_TITLE, title_x=[3, 88, 175, 220, 259]))

# toolbar
tb = figure(width=LW + RW, height=16, x_range=Range1d(0, 1366), y_range=Range1d(0, 16),
            output_backend="svg", toolbar_location=None, tools="", x_axis_location=None, y_axis_location=None,
            min_border=0, background_fill_color=BG, border_fill_color=BG, outline_line_color=None)
tb.grid.visible = False
TB_LEFT_X = [1, 36, 75, 114, 160, 206, 254, 287, 320, 354, 398]
TB_SEP_X = [1055, 1094, 1133, 1172, 1211, 1250, 1289, 1328, 1366]
tb.text(x=TB_LEFT_X, y=[8] * len(TB_LEFT), text=TB_LEFT,
        text_color=[RED if t == TB_ACTIVE else "#202020" for t in TB_LEFT],
        text_font=value(FONT), text_font_size="12px", text_baseline="middle", text_align="left")
centers = [(a + b) / 2 for a, b in zip(TB_SEP_X[:-1], TB_SEP_X[1:])]
tb.text(x=centers, y=[8] * len(TB_RIGHT), text=TB_RIGHT, text_color="#202020",
        text_font=value(FONT), text_font_size="12px", text_baseline="middle", text_align="center")
tb.segment(x0=TB_SEP_X[:-1], y0=[2] * 8, x1=TB_SEP_X[:-1], y1=[16] * 8, line_color="#c8c8c8", line_width=1)
tb.segment(x0=[0], y0=[0.5], x1=[1366], y1=[0.5], line_color="#c4c4c4", line_width=2)

layout = column(tb, row(tl, tr, spacing=0), row(bl, br, spacing=0), spacing=0)

open("out.html", "w").write(file_html(layout, INLINE))
